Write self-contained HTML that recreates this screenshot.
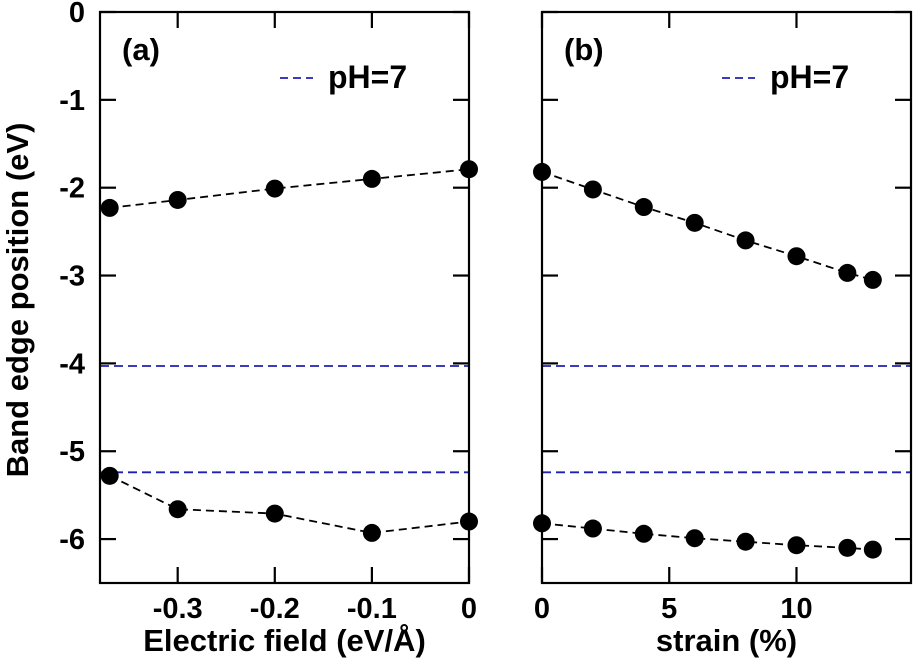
<!DOCTYPE html>
<html><head><meta charset="utf-8"><style>
body{margin:0;background:#fff}
svg{display:block;font-family:"Liberation Sans","DejaVu Sans",sans-serif;font-weight:bold}
</style></head><body>
<svg id="c" width="913" height="661"></svg>
<script>
const ef=[-0.37,-0.3,-0.2,-0.1,0];
const efCB=[-2.23,-2.14,-2.01,-1.90,-1.79];
const efVB=[-5.28,-5.66,-5.71,-5.93,-5.80];
const strain=[0,2,4,6,8,10,12,13];
const stCB=[-1.82,-2.02,-2.22,-2.40,-2.60,-2.78,-2.97,-3.05];
const stVB=[-5.82,-5.88,-5.94,-5.99,-6.03,-6.07,-6.10,-6.12];
const phLevels=[-4.03,-5.24];
const yTicks=[0,-1,-2,-3,-4,-5,-6];
const aTicks=[-0.3,-0.2,-0.1,0];
const aTickLabels=["-0.3","-0.2","-0.1","0"];
const bTicks=[0,5,10];
const bTickLabels=["0","5","10"];
const NS="http://www.w3.org/2000/svg";
const svg=document.getElementById('c');
const yTop=12,yBot=583;
const y=v=>yTop+(0-v)/(6.5)*(yBot-yTop);
function mk(t,a,p){const e=document.createElementNS(NS,t);for(const k in a)e.setAttribute(k,a[k]);(p||svg).appendChild(e);return e;}
function panel(name,x0,x1,d0,d1,xs,s1,s2,ticks,labels,title,tag){
  const g=mk('g',{});
  
  
  const x=v=>x0+(v-d0)/(d1-d0)*(x1-x0);
  phLevels.forEach(p=>{const l=mk('line',{x1:x0,x2:x1,y1:y(p),y2:y(p),stroke:'#2020b0','stroke-width':1.8,'stroke-dasharray':'9,5'},g);
    
    });
  [s1,s2].forEach((s,i)=>{
    const pl=mk('polyline',{points:xs.map((v,j)=>x(v)+','+y(s[j])).join(' '),fill:'none',stroke:'#000','stroke-width':1.8,'stroke-dasharray':'8,5'},g);
    
    
    xs.forEach((v,j)=>{const c=mk('circle',{cx:x(v),cy:y(s[j]),r:9,fill:'#000'},g);
      
      });
  });
  const fr=mk('rect',{x:x0,y:yTop,width:x1-x0,height:yBot-yTop,fill:'none',stroke:'#000','stroke-width':2.2},g);
  
  
  yTicks.forEach(t=>{mk('line',{x1:x0,x2:x0+16,y1:y(t),y2:y(t),stroke:'#000','stroke-width':2.2},g);mk('line',{x1:x1-16,x2:x1,y1:y(t),y2:y(t),stroke:'#000','stroke-width':2.2},g);});
  ticks.forEach((t,i)=>{mk('line',{x1:x(t),x2:x(t),y1:yBot,y2:yBot-16,stroke:'#000','stroke-width':2.2},g);mk('line',{x1:x(t),x2:x(t),y1:yTop,y2:yTop+16,stroke:'#000','stroke-width':2.2},g);
    const tl=mk('text',{x:x(t),y:618,'text-anchor':'middle','font-size':29},g);tl.textContent=labels[i];
    
    });
  const xt=mk('text',{x:(x0+x1)/2,y:651,'text-anchor':'middle','font-size':31},g);xt.textContent=title;
  
  
  const tg=mk('text',{x:x0+22,y:60,'font-size':31},g);tg.textContent=tag;
  
  
  mk('line',{x1:x0+180,x2:x0+213,y1:78,y2:78,stroke:'#2020b0','stroke-width':1.8,'stroke-dasharray':'8,5'},g);
  const lt=mk('text',{x:x0+228,y:88,'font-size':32},g);lt.textContent='pH=7';
  
  
}
panel('panel-a-electric-field',100,469,-0.38,0,ef,efCB,efVB,aTicks,aTickLabels,'Electric field (eV/Å)','(a)');
panel('panel-b-strain',542,911,0,14.5,strain,stCB,stVB,bTicks,bTickLabels,'strain (%)','(b)');
yTicks.forEach(t=>{const tl=mk('text',{x:85,y:y(t)+10,'text-anchor':'end','font-size':29});tl.textContent=String(t);
  
  });
const yt=mk('text',{x:0,y:0,'text-anchor':'middle','font-size':31,transform:'translate(28,300) rotate(-90)'});
yt.textContent='Band edge position (eV)';


</script>
</body></html>
